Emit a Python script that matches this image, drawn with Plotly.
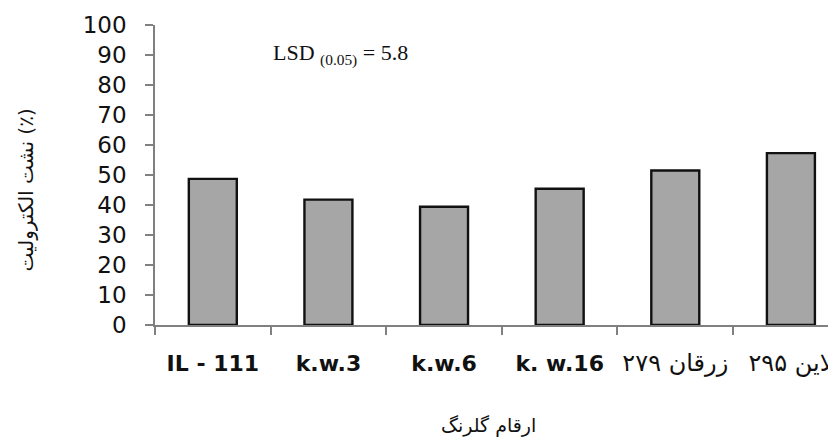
import plotly.graph_objects as go

categories = ["IL - 111", "k.w.3", "k.w.6", "k. w.16", "زرقان ۲۷۹", "لاین ۲۹۵"]
tick_labels = ["<b>IL - 111</b>", "<b>k.w.3</b>", "<b>k.w.6</b>", "<b>k. w.16</b>",
               "<span style='font-size:24px'>زرقان ۲۷۹</span>",
               "<span style='font-size:24px'>لاین ۲۹۵</span>"]
values = [48.7, 41.8, 39.4, 45.4, 51.5, 57.3]
y_ticks = [0, 10, 20, 30, 40, 50, 60, 70, 80, 90, 100]

fig = go.Figure()
fig.add_trace(go.Bar(
    x=categories, y=values, width=0.415,
    marker=dict(color="#a6a6a6", line=dict(color="#111111", width=2.4)),
    showlegend=False,
))

# page body has a default 8px margin, so the figure is offset by it
fig.update_layout(
    width=828, height=431,
    margin=dict(l=147, r=0, t=17, b=114, autoexpand=False),
    paper_bgcolor="white", plot_bgcolor="white",
    xaxis=dict(
        type="category", range=[-0.5, 5.39], automargin=False,
        tickmode="array", tickvals=categories, ticktext=tick_labels,
        tickson="boundaries", ticks="outside", ticklen=8, tickwidth=1.5, tickcolor="#808080",
        showline=True, linecolor="#808080", linewidth=1.5,
        showgrid=False, zeroline=False,
        tickfont=dict(family="DejaVu Sans", size=22, color="#111111"),
        ticklabelstandoff=18,
    ),
    yaxis=dict(
        range=[0, 100], tickmode="array", tickvals=y_ticks, automargin=False,
        ticks="outside", ticklen=8, tickwidth=1.5, tickcolor="#808080",
        showline=True, linecolor="#808080", linewidth=1.5,
        showgrid=False, zeroline=False,
        tickfont=dict(family="DejaVu Sans", size=23, color="#111111"),
        ticklabelstandoff=14,
    ),
    annotations=[
        dict(text="LSD <sub>(0.05)</sub> = 5.8", xref="paper", yref="paper",
             x=0.272, y=0.90, showarrow=False, xanchor="center", yanchor="middle",
             font=dict(family="Liberation Serif", size=22, color="#111111")),
        dict(text="ارقام گلرنگ", xref="paper", yref="paper",
             x=0.489, y=0, yshift=-100, showarrow=False, xanchor="center", yanchor="middle",
             font=dict(family="DejaVu Sans", size=19, color="#111111")),
        dict(text="نشت الکترولیت (٪)", xref="paper", yref="paper",
             x=-0.19, y=0.45, showarrow=False, xanchor="center", yanchor="middle",
             textangle=-90,
             font=dict(family="DejaVu Sans", size=20, color="#111111")),
    ],
)

fig.write_html("out.html")
